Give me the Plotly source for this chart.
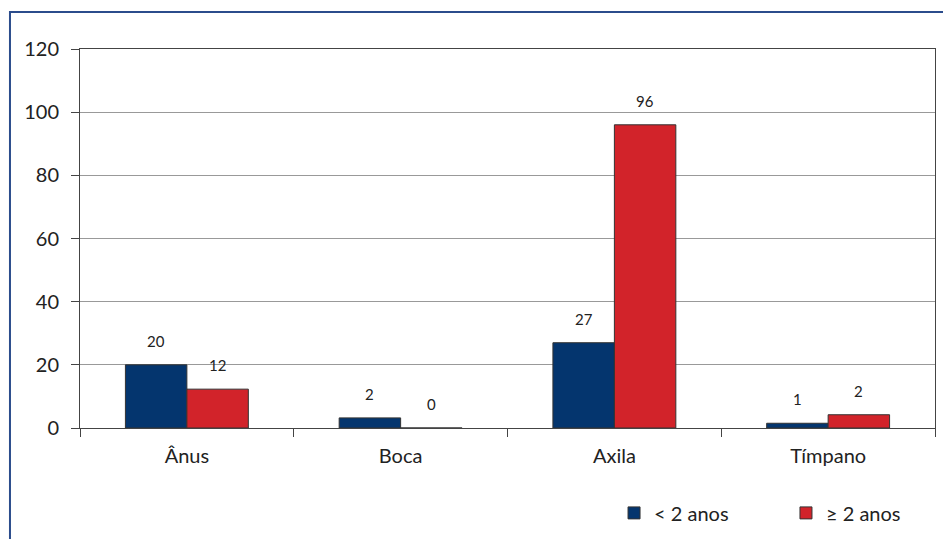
import plotly.graph_objects as go

categories = ["Ânus", "Boca", "Axila", "Tímpano"]
series_names = ["< 2 anos", "≥ 2 anos"]
# bar heights as drawn in the picture
heights_lt2 = [20, 3.2, 27, 1.5]
heights_ge2 = [12.3, 0, 96, 4.2]
# printed data labels
labels_lt2 = ["20", "2", "27", "1"]
labels_ge2 = ["12", "0", "96", "2"]
y_ticks = [0, 20, 40, 60, 80, 100, 120]

BLUE = "#04356e"
RED = "#d2232a"
TXT = "#222222"
FONT = "Lato"

fig = go.Figure()
fig.add_trace(go.Bar(name=series_names[0], x=categories, y=heights_lt2, legend="legend",
                     marker=dict(color=BLUE, line=dict(color="#333333", width=1))))
fig.add_trace(go.Bar(name=series_names[1], x=categories, y=heights_ge2, legend="legend2",
                     marker=dict(color=RED, line=dict(color="#333333", width=1))))

# data labels
bar_off = 30.8
for cat, h, t in zip(categories, heights_lt2, labels_lt2):
    fig.add_annotation(x=cat, y=h, text=t, showarrow=False, xshift=-bar_off, yshift=24,
                       yanchor="middle", font=dict(size=15, color=TXT, family=FONT))
for cat, h, t in zip(categories, heights_ge2, labels_ge2):
    fig.add_annotation(x=cat, y=h, text=t, showarrow=False, xshift=bar_off, yshift=24,
                       yanchor="middle", font=dict(size=15, color=TXT, family=FONT))

# outer frame
fig.add_shape(type="rect", xref="paper", yref="paper",
              x0=-0.0819, x1=1.5, y0=-0.8, y1=1.0976,
              line=dict(color="#2b4c8c", width=2), layer="below")

leg_common = dict(orientation="h", xanchor="left", yanchor="middle", y=-0.224,
                  font=dict(size=20, color=TXT, family=FONT), itemwidth=30,
                  bgcolor="rgba(0,0,0,0)")
fig.update_layout(
    width=943, height=539,
    margin=dict(l=80, r=8, t=49, b=111, autoexpand=False),
    paper_bgcolor="white", plot_bgcolor="white",
    barmode="group", bargap=0.425, bargroupgap=0,
    font=dict(family=FONT, size=20, color=TXT),
    showlegend=True,
    legend=dict(x=0.6246, **leg_common),
    legend2=dict(x=0.8257, **leg_common),
)
fig.update_xaxes(type="category", showline=True, linecolor="#444444", linewidth=1,
                 mirror=True, ticks="outside", tickson="boundaries", ticklen=8,
                 tickcolor="#444444", showgrid=False,
                 tickfont=dict(size=20, color=TXT, family=FONT), ticklabelstandoff=10)
fig.update_yaxes(range=[0, 120], tickvals=y_ticks, showline=True, linecolor="#444444",
                 linewidth=1, mirror=True, ticks="outside", ticklen=8, tickcolor="#444444",
                 showgrid=True, gridcolor="#999999", gridwidth=1, zeroline=False,
                 tickfont=dict(size=20, color=TXT, family=FONT), ticklabelstandoff=8)

fig.write_html("out.html")
